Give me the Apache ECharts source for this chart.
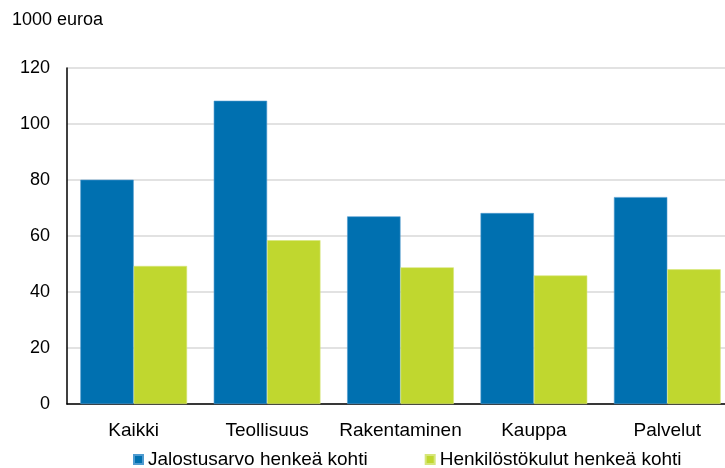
<!DOCTYPE html>
<html>
<head>
<meta charset="utf-8">
<script src="https://cdn.jsdelivr.net/npm/echarts@6/dist/echarts.min.js"></script>
<style>html,body{margin:0;padding:0;background:#fff;overflow:hidden}#c{width:740px;height:468px}</style>
</head>
<body>
<div id="c"></div>
<script>
const categories = ['Kaikki', 'Teollisuus', 'Rakentaminen', 'Kauppa', 'Palvelut'];
const seriesNames = ['Jalostusarvo henkeä kohti', 'Henkilöstökulut henkeä kohti'];
const jalostusarvo = [80.1, 108.3, 67.0, 68.2, 73.9];
const henkilostokulut = [49.3, 58.5, 48.8, 45.9, 48.1];
const unitLabel = '1000 euroa';

const FONT = 'Liberation Sans, Arial, sans-serif';
const chart = echarts.init(document.getElementById('c'), null, {renderer: 'canvas'});
chart.setOption({
  animation: false,
  backgroundColor: '#ffffff',
  title: {
    text: unitLabel, left: 7, top: 6,
    textStyle: {fontFamily: FONT, fontSize: 18, fontWeight: 'normal', color: '#000'}
  },
  grid: {left: 67, top: 68, width: 667, height: 336, containLabel: false},
  legend: {
    left: 128, top: 445, itemWidth: 9, itemHeight: 9, itemGap: 57, icon: 'rect',
    textStyle: {fontFamily: FONT, fontSize: 19, color: '#000'},
    data: seriesNames
  },
  xAxis: {
    type: 'category', data: categories,
    axisLine: {show: true, lineStyle: {color: '#000', width: 1.5}},
    axisTick: {show: false},
    axisLabel: {fontFamily: FONT, fontSize: 19, color: '#000', margin: 17, interval: 0}
  },
  yAxis: {
    type: 'value', min: 0, max: 120, interval: 20,
    axisLine: {show: true, lineStyle: {color: '#000', width: 1.5}},
    axisTick: {show: false},
    axisLabel: {fontFamily: FONT, fontSize: 18, color: '#000', margin: 17},
    splitLine: {show: true, lineStyle: {color: '#d9d9d9', width: 1.5}}
  },
  series: [
    {name: seriesNames[0], type: 'bar', data: jalostusarvo, barGap: '0%', barCategoryGap: '20%',
     itemStyle: {color: '#0070b0', borderColor: '#4f9bd0', borderWidth: 0.6}},
    {name: seriesNames[1], type: 'bar', data: henkilostokulut, barGap: '0%', barCategoryGap: '20%',
     itemStyle: {color: '#c0d72f', borderColor: '#d6e67a', borderWidth: 0.6}}
  ]
});
</script>
</body>
</html>
